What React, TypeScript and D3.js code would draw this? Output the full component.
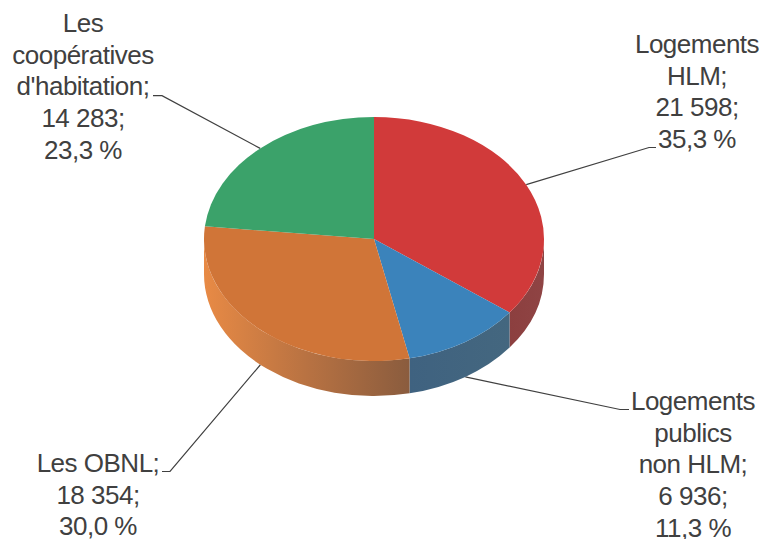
import React from "react";
import * as d3 from "d3";

const categories = ["Logements HLM", "Logements publics non HLM", "Les OBNL", "Les coopératives d'habitation"];
const values = [21598, 6936, 18354, 14283];
const topColors = ["#d13a3a", "#3b83bb", "#d07538", "#3ba26a"];
const labelLines = [
  ["Logements", "HLM;", "21 598;", "35,3 %"],
  ["Logements", "publics", "non HLM;", "6 936;", "11,3 %"],
  ["Les OBNL;", "18 354;", "30,0 %"],
  ["Les", "coopératives", "d'habitation;", "14 283;", "23,3 %"],
];
const labelCenterX = [697, 693, 98, 83];
const labelFirstBaseline = [53, 410, 472, 32];
const leaderElbows: [number, number][][] = [
  [[649, 147.5], [656, 147.5]],
  [[620, 409.5], [629, 409.5]],
  [[170, 471.5], [162, 471.5]],
  [[162, 95.7], [153, 95.7]],
];
const leaderUsesSide = [false, true, true, false];

const W = 763, H = 539;
const cx = 374, cy = 239, rx = 170, ry = 122, depth = 35;
const lineHeight = 31.7;

const pie = d3.pie<number>().sort(null).value((d) => d);
const arcs = pie(values);
const arcGen = d3.arc<d3.PieArcDatum<number>>().innerRadius(0).outerRadius(rx);

const px = (a: number) => cx + rx * Math.sin(a);
const py = (a: number) => cy - ry * Math.cos(a);

// wall of the disc between two angles (only the visible front half)
function wall(a0: number, a1: number) {
  const s = Math.max(a0, Math.PI / 2);
  const e = Math.min(a1, (3 * Math.PI) / 2);
  if (e <= s) return "";
  const sweep = e - s > Math.PI ? 1 : 0;
  return `M${px(s)},${py(s)}A${rx},${ry} 0 ${sweep} 1 ${px(e)},${py(e)}L${px(e)},${py(e) + depth}A${rx},${ry} 0 ${sweep} 0 ${px(s)},${py(s) + depth}Z`;
}

const line = d3.line();

export default function App() {
  return (
    <svg
      width={W}
      height={H}
      viewBox={`0 0 ${W} ${H}`}
      style={{ position: "absolute", left: 0, top: 0, background: "#fff" }}
      fontFamily='"Liberation Sans", Arial, sans-serif'
    >
      <defs>
        <linearGradient id="side-0" gradientUnits="userSpaceOnUse" x1={510} x2={544} y1={0} y2={0}>
          <stop offset="0" stopColor="#8c3f3f" />
          <stop offset="1" stopColor="#8f4444" />
        </linearGradient>
        <linearGradient id="side-1" gradientUnits="userSpaceOnUse" x1={410} x2={510} y1={0} y2={0}>
          <stop offset="0" stopColor="#3f6280" />
          <stop offset="1" stopColor="#44677f" />
        </linearGradient>
        <linearGradient id="side-2" gradientUnits="userSpaceOnUse" x1={204} x2={410} y1={0} y2={0}>
          <stop offset="0" stopColor="#e88a45" />
          <stop offset="0.5" stopColor="#b87242" />
          <stop offset="1" stopColor="#8a5c3e" />
        </linearGradient>
      </defs>

      {arcs.map((a, i) => {
        const mid = (a.startAngle + a.endAngle) / 2;
        const start: [number, number] = [px(mid), py(mid) + (leaderUsesSide[i] ? depth : 0)];
        return (
          <path
            key={categories[i]}
            d={line([start, ...leaderElbows[i]]) ?? ""}
            fill="none"
            stroke="#404040"
            strokeWidth={1.2}
          />
        );
      })}

      {arcs.map((a, i) => (
        <path key={i} d={wall(a.startAngle, a.endAngle)} fill={`url(#side-${i})`} />
      ))}

      <g transform={`translate(${cx},${cy}) scale(1,${ry / rx})`}>
        {arcs.map((a, i) => (
          <path key={i} d={arcGen(a) ?? ""} fill={topColors[i]} />
        ))}
      </g>

      {labelLines.map((lines, i) => (
        <text key={i} textAnchor="middle" fontSize={26} letterSpacing={-0.5} fill="#404040">
          {lines.map((t, j) => (
            <tspan key={j} x={labelCenterX[i]} y={labelFirstBaseline[i] + j * lineHeight}>
              {t}
            </tspan>
          ))}
        </text>
      ))}
    </svg>
  );
}
